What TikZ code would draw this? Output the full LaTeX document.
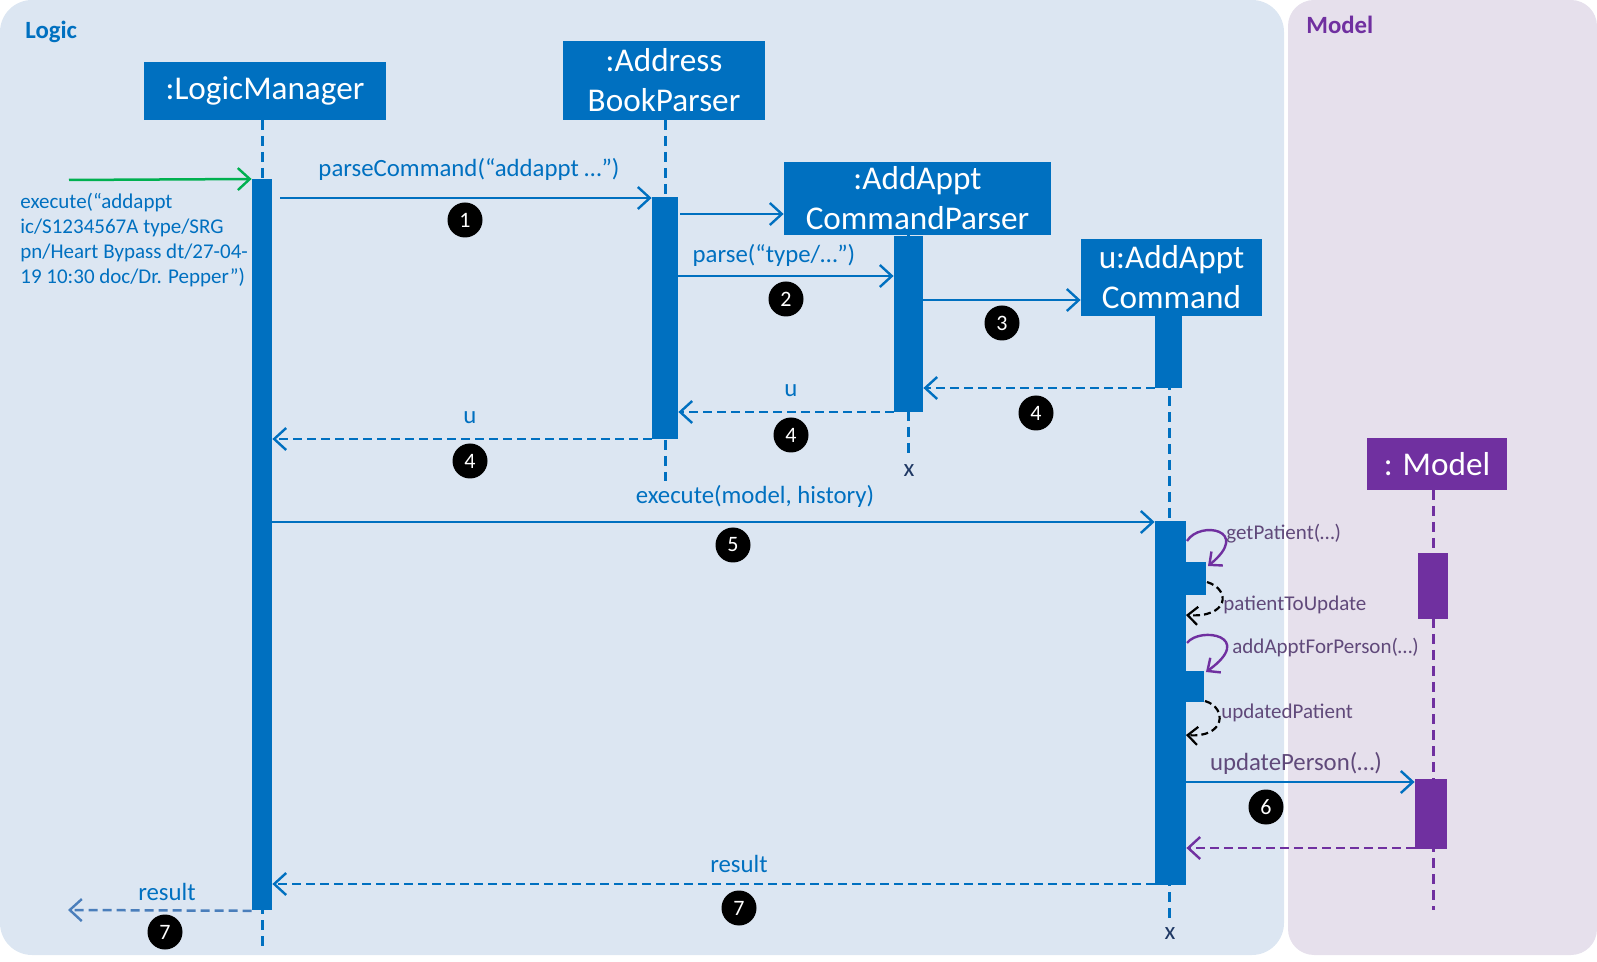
\documentclass[tikz,border=0pt]{standalone}
\usepackage{fontspec}
\setmainfont{Carlito}
\usetikzlibrary{arrows.meta,positioning}

\definecolor{logicbg}{HTML}{DCE6F2}
\definecolor{modelbg}{HTML}{E6E0EC}
\definecolor{lgblue}{HTML}{0070C0}
\definecolor{mdpurple}{HTML}{7030A0}
\definecolor{txtpurple}{HTML}{60497A}
\definecolor{ingreen}{HTML}{00B050}
\definecolor{outblue}{HTML}{4A7EBB}
\definecolor{xnavy}{HTML}{1F3864}

\begin{document}
\begin{tikzpicture}[x=0.5pt, y=-0.5pt,
    head/.style={fill=lgblue, text=white, inner sep=0pt, align=center,
        font=\fontsize{16.6}{20}\selectfont},
    life/.style={lgblue, line width=1.5pt, dash pattern=on 5pt off 3pt},
    bar/.style={fill=lgblue, inner sep=0pt, anchor=north},
    msg/.style={lgblue, line width=1.25pt, -{Straight Barb[length=6pt, width=11pt, line width=1.2pt]}},
    ret/.style={msg, dash pattern=on 4.5pt off 2.5pt},
    lbl/.style={lgblue, inner sep=0pt, font=\fontsize{12.4}{14}\selectfont},
    slbl/.style={txtpurple, inner sep=0pt, anchor=west, font=\fontsize{10.5}{12}\selectfont},
    badge/.style={circle, fill=black, text=white, inner sep=0pt, minimum size=17.5pt,
        font=\fontsize{11}{12}\selectfont},
    xmark/.style={xnavy, inner sep=0pt, font=\fontsize{12.5}{13}\selectfont}]

    \useasboundingbox (0,0) rectangle (1597,962);

    % Packages
    \fill[logicbg, rounded corners=16pt] (0,0) rectangle (1284,955);
    \fill[modelbg, rounded corners=13pt] (1288,0) rectangle (1597,955);
    \node[lgblue, anchor=west, inner sep=0pt, font=\bfseries\fontsize{12.4}{14}\selectfont] (logic) at (25,32) {Logic};
    \node[mdpurple, anchor=west, inner sep=0pt, font=\bfseries\fontsize{12.4}{14}\selectfont] (model) at (1306,25) {Model};

    % Participants
    \node[head, minimum width=121pt, minimum height=29pt] (lm) at (265,91) {:LogicManager};
    \node[head, minimum width=101pt, minimum height=39.5pt] (abp) at (664,80.5) {:Address\\BookParser};
    \node[head, minimum width=133.5pt, minimum height=36.5pt] (acp) at (917.5,198.5) {:AddAppt\\CommandParser};
    \node[head, minimum width=90.5pt, minimum height=38.5pt] (cmd) at (1171.5,277.5) {u:AddAppt\\Command};
    \node[head, fill=mdpurple, minimum width=70pt, minimum height=26pt] (mdl) at (1437,464) {: Model};

    % Lifelines
    \draw[life] (262,120) -- (262,947);
    \draw[life] (665,120) -- (665,481);
    \draw[life] (908,235) -- (908,458);
    \draw[life] (1169,316) -- (1169,922);
    \draw[life, mdpurple] (1433,490) -- (1433,910);
    \node[xmark] (acpx) at (909,471) {x};
    \node[xmark] (cmdx) at (1170,934) {x};

    % Activation bars
    \node[bar, minimum width=10pt, minimum height=365.5pt] (lmbar) at (262,179) {};
    \node[bar, minimum width=13pt, minimum height=121pt] (abpbar) at (665,197) {};
    \node[bar, minimum width=14.5pt, minimum height=88pt] (acpbar) at (908.5,236) {};
    \node[bar, minimum width=13.5pt, minimum height=36pt] (cmdbar) at (1168.5,316) {};
    \node[bar, minimum width=15.5pt, minimum height=182pt] (exebar) at (1170.5,521) {};
    \node[bar, minimum width=10pt, minimum height=16.5pt] (getbar) at (1196,562) {};
    \node[bar, minimum width=9pt, minimum height=15.5pt] (addbar) at (1195,671) {};
    \node[bar, fill=mdpurple, minimum width=15pt, minimum height=33pt] (mdlbar) at (1433,553) {};
    \node[bar, fill=mdpurple, minimum width=16pt, minimum height=35pt] (updbar) at (1431,779) {};

    % Message heights
    \coordinate (y1) at (0,198);
    \coordinate (y2) at (0,214);
    \coordinate (y3) at (0,276);
    \coordinate (y4) at (0,300);
    \coordinate (y5) at (0,388);
    \coordinate (y6) at (0,412);
    \coordinate (y7) at (0,439);
    \coordinate (y8) at (0,522);
    \coordinate (y9) at (0,782);
    \coordinate (y10) at (0,848);
    \coordinate (y11) at (0,884);
    \coordinate (y12) at (0,910);
    \coordinate (src) at (69,180);
    \coordinate (dst) at (68,910);

    % Incoming call
    \draw[msg, ingreen] (src) -- (lmbar.north west);
    \node[lbl, anchor=west, align=left, font=\fontsize{10.5}{12.6}\selectfont] (exe) at (20,240)
        {execute(“addappt\\ic/S1234567A type/SRG\\pn/Heart Bypass dt/27-04-\\19 10:30 doc/Dr. Pepper”)};

    % Parsing
    \draw[msg] ([xshift=4pt]lmbar.east |- y1) -- (abpbar.west |- y1);
    \node[lbl] (l1) at (469,169) {parseCommand(“addappt …”)};
    \node[badge] (b1) at (465,220) {1};
    \draw[msg] ([xshift=1pt]abpbar.east |- y2) -- (acp.west |- y2);
    \draw[msg] (abpbar.east |- y3) -- (acpbar.west |- y3);
    \node[lbl] (l2) at (774,255) {parse(“type/…”)};
    \node[badge] (b2) at (786,299) {2};
    \draw[msg] (acpbar.east |- y4) -- (cmd.west |- y4);
    \node[badge] (b3) at (1002,323) {3};

    % Returns
    \draw[ret] (cmdbar.west |- y5) -- (acpbar.east |- y5);
    \node[badge] (b4a) at (1036,413) {4};
    \draw[ret] (acpbar.west |- y6) -- (abpbar.east |- y6);
    \node[lbl] (l3) at (791,391) {u};
    \node[badge] (b4b) at (791,435) {4};
    \draw[ret] (abpbar.west |- y7) -- (lmbar.east |- y7);
    \node[lbl] (l4) at (470,418) {u};
    \node[badge] (b4c) at (470,461) {4};

    % Execution
    \draw[msg] (lmbar.east |- y8) -- (exebar.west |- y8);
    \node[lbl] (l5) at (755,496) {execute(model, history)};
    \node[badge] (b5) at (733,545) {5};

    % Self calls
    \draw[mdpurple, line width=1.2pt, -{Straight Barb[length=5pt, width=9pt, line width=1.2pt]}]
        (1187,541) .. controls (1200,520) and (1252,530) .. (1208,566);
    \node[slbl] (l6) at (1226,534) {getPatient(…)};
    \draw[black, line width=1.1pt, dash pattern=on 3.5pt off 2pt, -{Straight Barb[length=5pt, width=9pt, line width=1.1pt]}]
        (1207,582) .. controls (1232,590) and (1228,618) .. (1186,615);
    \node[slbl] (l7) at (1223,605) {patientToUpdate};
    \draw[mdpurple, line width=1.2pt, -{Straight Barb[length=5pt, width=9pt, line width=1.2pt]}]
        (1187,643) .. controls (1200,626) and (1256,636) .. (1206,672);
    \node[slbl] (l8) at (1232,648) {addApptForPerson(…)};
    \draw[black, line width=1.1pt, dash pattern=on 3.5pt off 2pt, -{Straight Barb[length=5pt, width=9pt, line width=1.1pt]}]
        (1205,701) .. controls (1228,708) and (1225,738) .. (1186,735);
    \node[slbl] (l9) at (1221,713) {updatedPatient};

    % Model update
    \draw[msg] (exebar.east |- y9) -- (updbar.west |- y9);
    \node[lbl, txtpurple] (l10) at (1296,763) {updatePerson(…)};
    \node[badge] (b6) at (1266,807) {6};
    \draw[ret, mdpurple] (updbar.south west |- y10) -- (exebar.east |- y10);

    % Result
    \draw[ret] (exebar.west |- y11) -- (lmbar.east |- y11);
    \node[lbl] (l11) at (739,864) {result};
    \node[badge] (b7a) at (739,908) {7};
    \draw[ret, outblue] (lmbar.south west) -- (dst);
    \node[lbl] (l12) at (167,892) {result};
    \node[badge] (b7b) at (165,932) {7};
\end{tikzpicture}
\end{document}
